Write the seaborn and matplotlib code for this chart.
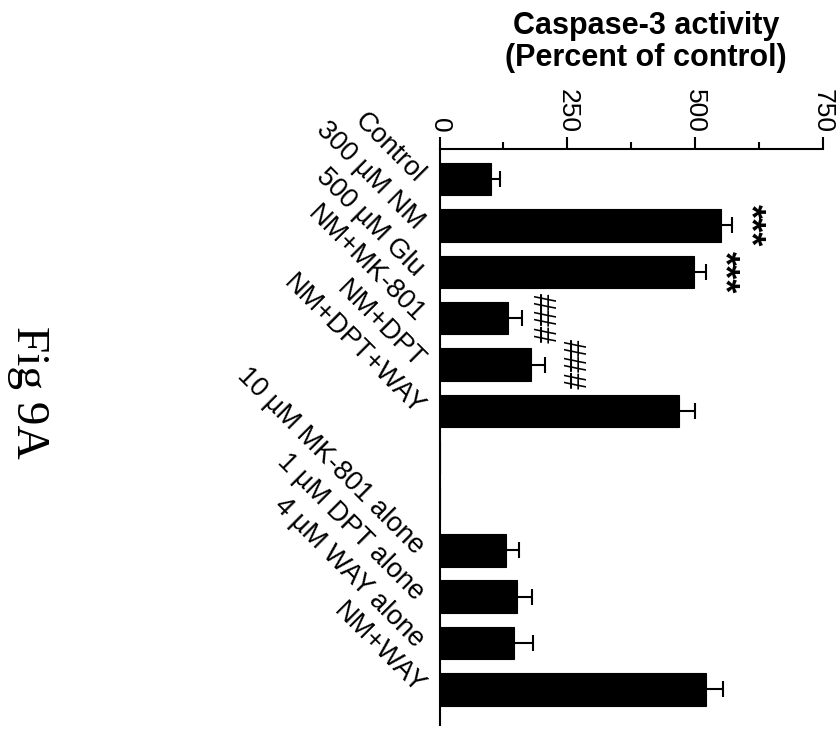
import matplotlib
matplotlib.use("Agg")
import matplotlib.pyplot as plt
import numpy as np
import pandas as pd
import seaborn as sns

# Caspase-3 activity, percent of control (mean and SEM per treatment slot)
groups = ["Control", "300 µM NM", "500 µM Glu", "NM+MK-801", "NM+DPT",
          "NM+DPT+WAY", "slot7", "slot8", "10 µM MK-801 alone",
          "1 µM DPT alone", "4 µM WAY alone", "NM+WAY"]
tick_labels = ["Control", "300 µM NM", "500 µM Glu", "NM+MK-801", "NM+DPT",
               "NM+DPT+WAY", "", "", "10 µM MK-801 alone",
               "1 µM DPT alone", "4 µM WAY alone", "NM+WAY"]
means = [100, 550, 498, 134, 178, 468, 0, 0, 131, 152, 145, 522]
sems = [18, 23, 24, 28, 28, 32, 0, 0, 25, 28, 37, 32]
sig_marks = ["", "***", "***", "###", "###", "", "", "", "", "", "", ""]
value_ticks = [0, 250, 500, 750]
minor_ticks = [125, 375, 625]

sns.set_style("white")
plt.rcParams["font.family"] = ["Liberation Sans", "DejaVu Sans"]
plt.rcParams.update({"text.color": "black", "xtick.color": "black",
                     "ytick.color": "black", "axes.labelcolor": "black"})

df = pd.DataFrame({"group": groups, "mean": means, "sem": sems})

fig = plt.figure(figsize=(8.38, 7.32), dpi=100)
ax = fig.add_axes([439.5 / 838, 1 - 725 / 732, (823 - 439.5) / 838, (725 - 149) / 732])

sns.barplot(data=df, x="mean", y="group", order=groups, orient="h",
            color="black", width=0.7, errorbar=None, saturation=1,
            edgecolor="black", linewidth=0.8, ax=ax)

# one-sided (upper) SEM whiskers with a single end cap
pos = np.arange(len(groups))
mean_arr = np.array(means, dtype=float)
sem_arr = np.array(sems, dtype=float)
has_err = sem_arr > 0
ax.hlines(pos[has_err], mean_arr[has_err], mean_arr[has_err] + sem_arr[has_err],
          color="black", linewidth=1.5, zorder=3)
ax.plot(mean_arr[has_err] + sem_arr[has_err], pos[has_err], linestyle="none",
        marker="|", markersize=12, markeredgewidth=1.5, color="black", zorder=3)

# significance marks, stacked vertically beyond each error bar
mark_pad = {1: 12, 2: 12, 3: 13, 4: 19}
for i, mark in enumerate(sig_marks):
    if not mark:
        continue
    star = mark.startswith("*")
    ax.annotate(mark, xy=(means[i] + sems[i], pos[i]),
                xytext=(mark_pad.get(i, 12), 0), textcoords="offset points",
                rotation=-90, ha="center", va="center",
                fontsize=26 if star else 22,
                fontweight="bold" if star else "normal")

ax.set_xlim(0, 750)
ax.set_ylim(11.765, -0.646)

ax.xaxis.set_ticks_position("top")
ax.xaxis.set_label_position("top")
ax.set_xticks(value_ticks)
ax.set_xticks(minor_ticks, minor=True)
ax.set_xticklabels([str(v) for v in value_ticks], rotation=-90, fontsize=19)
ax.tick_params(axis="x", which="major", direction="out", length=8.5,
               width=1.5, pad=3, top=True, bottom=False, color="black")
ax.tick_params(axis="x", which="minor", direction="out", length=5,
               width=1.5, top=True, bottom=False, color="black")

ax.set_yticks(pos)
ax.set_yticklabels(tick_labels, rotation=-45, ha="right", va="center",
                   rotation_mode="anchor", fontsize=19.5)
ax.tick_params(axis="y", length=0, pad=14)

ax.set_xlabel("")
ax.set_ylabel("")
for side in ("right", "bottom"):
    ax.spines[side].set_visible(False)
for side in ("top", "left"):
    ax.spines[side].set_visible(True)
    ax.spines[side].set_linewidth(1.5)
    ax.spines[side].set_color("black")

fig.text(646 / 838, 1 - 42 / 732, "Caspase-3 activity\n(Percent of control)",
         ha="center", va="center", fontsize=22, fontweight="bold",
         linespacing=1.05)

fig.text(28 / 838, 1 - 392 / 732, "Fig 9A", rotation=-90, ha="center",
         va="center", fontsize=34, family=["Liberation Serif", "DejaVu Serif"])

fig.savefig("out.png", dpi=100, facecolor="white")
